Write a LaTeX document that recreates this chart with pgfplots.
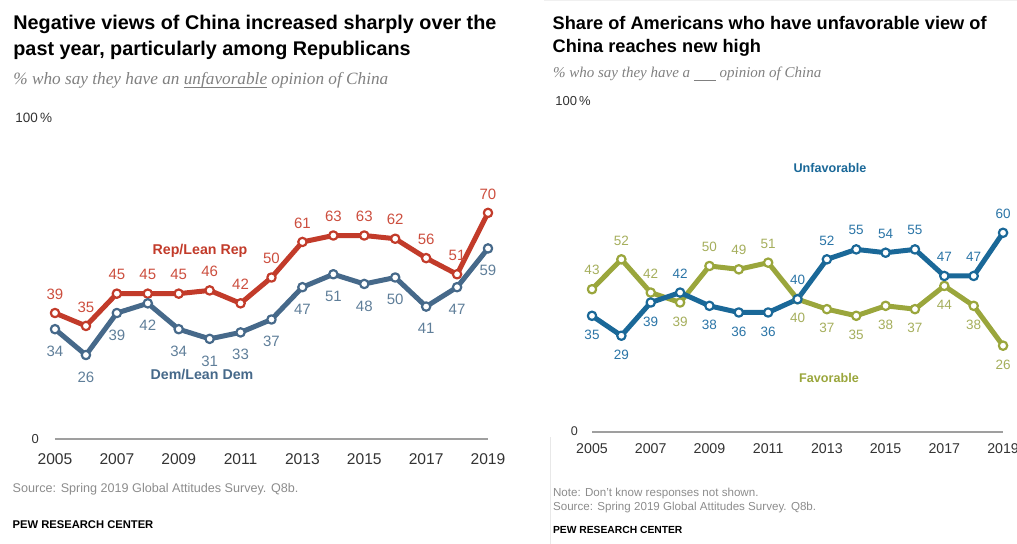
\documentclass[border=0pt]{standalone}
\usepackage{fontspec}
\setmainfont{Liberation Sans}
\newfontfamily\serifit{Liberation Serif}
\usepackage{pgfplots}
\pgfplotsset{compat=1.18}
\usepackage{pgfplotstable}
\newcommand{\fs}[1]{\fontsize{#1}{#1}\selectfont}
\definecolor{repc}{HTML}{C23B2A}
\definecolor{replab}{HTML}{CC4E3E}
\definecolor{demc}{HTML}{46698A}
\definecolor{demlab}{HTML}{5F7E99}
\definecolor{unfc}{HTML}{1A6898}
\definecolor{unflab}{HTML}{2A74A6}
\definecolor{favc}{HTML}{9AA63C}
\definecolor{favlab}{HTML}{A5AE5C}
\definecolor{subg}{HTML}{808080}
\definecolor{srcg}{HTML}{8C8C8C}
\definecolor{tickg}{HTML}{333333}

\pgfplotstableread{
x y s
2005 39 9.5
2006 35 9.5
2007 45 9.5
2008 45 9.5
2009 45 9.5
2010 46 9.5
2011 42 9.5
2012 50 9.5
2013 61 9.5
2014 63 9.5
2015 63 9.5
2016 62 9.5
2017 56 9.5
2018 51 9.5
2019 70 9.5
}\rep
\pgfplotstableread{
x y s
2005 34 -11
2006 26 -11
2007 39 -11
2008 42 -11
2009 34 -11
2010 31 -11
2011 33 -11
2012 37 -11
2013 47 -11
2014 51 -11
2015 48 -11
2016 50 -11
2017 41 -11
2018 47 -11
2019 59 -11
}\dem
\pgfplotstableread{
x y s
2005 35 -9.5
2006 29 -9.5
2007 39 -9.5
2008 42 9.5
2009 38 -9.5
2010 36 -9.5
2011 36 -9.5
2012 40 9.5
2013 52 9.5
2014 55 9.5
2015 54 9.5
2016 55 9.5
2017 47 9.5
2018 47 9.5
2019 60 9.5
}\unf
\pgfplotstableread{
x y s
2005 43 9.5
2006 52 9.5
2007 42 9.5
2008 39 -9.5
2009 50 9.5
2010 49 9.5
2011 51 9.5
2012 40 -9.5
2013 37 -9.5
2014 35 -9.5
2015 38 -9.5
2016 37 -9.5
2017 44 -9.5
2018 38 -9.5
2019 26 -9.5
}\fav

\pgfplotsset{
  pewaxis/.style={
    xmin=2005, xmax=2019, ymin=0, ymax=100,
    enlargelimits=false, clip=false,
    axis y line=none, axis x line*=bottom,
    axis line style={draw=gray!75, line width=0.7pt, -},
    xtick={2005,2007,...,2019}, ytick=\empty,
    major tick length=0pt,
    /pgf/number format/1000 sep={},
    /pgf/number format/assume math mode=true,
    anchor=south west,
  },
  pewline/.style={
    color=#1, line width=2.5pt, line join=round,
    mark=*, mark size=2.1pt,
    mark options={fill=white, draw=#1, line width=1.1pt},
    nodes near coords,
    visualization depends on={\thisrow{s}\as\lshift},
  },
}

\begin{document}
\begin{tikzpicture}
\path[use as bounding box] (0pt,0pt) rectangle (508.5pt,-272pt);

% faint panel separators
\draw[gray!18, line width=0.5pt] (275pt,-218.5pt) -- (275pt,-272pt);
\draw[gray!12, line width=0.5pt] (272pt,-0.5pt) -- (508.5pt,-0.5pt);

% ---------- Left chart ----------
\node[anchor=base west, inner sep=0pt] at (6.5pt,-14.65pt) {\fs{9.9pt}\bfseries Negative views of China increased sharply over the};
\node[anchor=base west, inner sep=0pt] at (6.5pt,-28pt) {\fs{9.9pt}\bfseries past year, particularly among Republicans};
\node[anchor=base west, inner sep=0pt, text=subg] at (6.5pt,-42.25pt) {\serifit\itshape\fs{8.62pt}\% who say they have an \underline{\smash{unfavorable}} opinion of China};
\node[anchor=base west, inner sep=0pt, text=tickg] at (7.5pt,-61.25pt) {\fs{6.75pt}100\,\%};
\node[anchor=base east, inner sep=0pt, text=tickg] at (19.65pt,-221.65pt) {\fs{6.5pt}0};

\begin{axis}[pewaxis, at={(27.5pt,-219.5pt)}, x=15.464pt, y=1.615pt,
  xticklabel style={anchor=center, yshift=-10pt, text=tickg, font=\fs{7.8pt}}]
\addplot[pewline=repc, every node near coord/.append style={anchor=center, yshift=\lshift*1pt, text=replab, font=\fs{7.5pt}}] table[x=x,y=y]{\rep};
\addplot[pewline=demc, every node near coord/.append style={anchor=center, yshift=\lshift*1pt, text=demlab, font=\fs{7.5pt}}] table[x=x,y=y]{\dem};
\end{axis}

\node[text=repc, inner sep=0pt] at (100pt,-125.5pt) {\fs{7.1pt}\bfseries Rep/Lean Rep};
\node[text=demc, inner sep=0pt] at (101pt,-187.5pt) {\fs{7.1pt}\bfseries Dem/Lean Dem};

\node[anchor=base west, inner sep=0pt, text=srcg] at (6.15pt,-246.5pt) {\fs{6.3pt}Source: Spring 2019 Global Attitudes Survey. Q8b.};
\node[anchor=base west, inner sep=0pt] at (6.15pt,-264.15pt) {\fs{5.6pt}\bfseries PEW RESEARCH CENTER};

% ---------- Right chart ----------
\node[anchor=base west, inner sep=0pt] at (276.15pt,-14.65pt) {\fs{9.1pt}\bfseries Share of Americans who have unfavorable view of};
\node[anchor=base west, inner sep=0pt] at (276.15pt,-26.35pt) {\fs{9.1pt}\bfseries China reaches new high};
\node[anchor=base west, inner sep=0pt, text=subg] at (276.35pt,-38.85pt) {\serifit\itshape\fs{7.5pt}\% who say they have a \underline{\hspace{11pt}} opinion of China};
\node[anchor=base west, inner sep=0pt, text=tickg] at (277.5pt,-53pt) {\fs{6.5pt}100\,\%};
\node[anchor=base east, inner sep=0pt, text=tickg] at (289.15pt,-218pt) {\fs{6.3pt}0};

\begin{axis}[pewaxis, at={(296pt,-216pt)}, x=14.68pt, y=1.66pt,
  xticklabel style={anchor=center, yshift=-8.5pt, text=tickg, font=\fs{7.1pt}}]
\addplot[pewline=favc, every node near coord/.append style={anchor=center, yshift=\lshift*1pt, text=favlab, font=\fs{6.75pt}}] table[x=x,y=y]{\fav};
\addplot[pewline=unfc, every node near coord/.append style={anchor=center, yshift=\lshift*1pt, text=unflab, font=\fs{6.75pt}}] table[x=x,y=y]{\unf};
\end{axis}

\node[text=unfc, inner sep=0pt] at (415pt,-84pt) {\fs{6.3pt}\bfseries Unfavorable};
\node[text=favc, inner sep=0pt] at (414.5pt,-189pt) {\fs{6.3pt}\bfseries Favorable};

\node[anchor=base west, inner sep=0pt, text=srcg] at (276.35pt,-248.25pt) {\fs{5.8pt}Note: Don't know responses not shown.};
\node[anchor=base west, inner sep=0pt, text=srcg] at (276.35pt,-255.5pt) {\fs{5.8pt}Source: Spring 2019 Global Attitudes Survey. Q8b.};
\node[anchor=base west, inner sep=0pt] at (276.35pt,-267pt) {\fs{5.15pt}\bfseries PEW RESEARCH CENTER};
\end{tikzpicture}
\end{document}
